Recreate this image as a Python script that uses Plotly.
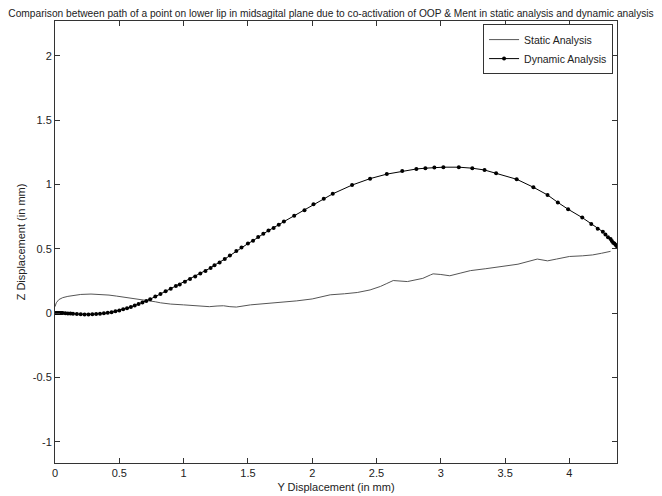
import plotly.graph_objects as go

# Static analysis path (Y displacement, Z displacement) in mm
static_y = [0, 0.01, 0.03, 0.06, 0.10, 0.15, 0.20, 0.28, 0.35, 0.42, 0.48, 0.53, 0.58, 0.65,
            0.72, 0.78, 0.82, 0.90, 1.00, 1.10, 1.20, 1.26, 1.31, 1.36, 1.41, 1.52, 1.62, 1.75,
            1.88, 2.00, 2.14, 2.25, 2.35, 2.45, 2.53, 2.58, 2.63, 2.74, 2.86, 2.92, 2.94, 3.00,
            3.07, 3.15, 3.23, 3.35, 3.48, 3.60, 3.75, 3.83, 3.90, 4.00, 4.10, 4.18, 4.25, 4.32]
static_z = [0.05, 0.08, 0.105, 0.12, 0.13, 0.138, 0.145, 0.148, 0.145, 0.14, 0.132, 0.125, 0.115, 0.107,
            0.10, 0.088, 0.08, 0.07, 0.064, 0.058, 0.05, 0.055, 0.057, 0.05, 0.047, 0.064, 0.072, 0.08,
            0.095, 0.11, 0.142, 0.15, 0.16, 0.18, 0.207, 0.23, 0.253, 0.245, 0.27, 0.297, 0.305, 0.30,
            0.29, 0.31, 0.33, 0.345, 0.362, 0.38, 0.42, 0.406, 0.42, 0.44, 0.445, 0.452, 0.465, 0.48]

# Dynamic analysis path
dynamic_y = [0, 0.01, 0.02, 0.03, 0.04, 0.05, 0.06, 0.08, 0.10, 0.12, 0.14, 0.17, 0.20, 0.23,
             0.26, 0.29, 0.32, 0.35, 0.38, 0.41, 0.44, 0.47, 0.50, 0.53, 0.56, 0.59, 0.62, 0.65,
             0.68, 0.71, 0.74, 0.78, 0.82, 0.86, 0.90, 0.94, 0.97, 1.01, 1.05, 1.09, 1.13, 1.17,
             1.21, 1.24, 1.28, 1.32, 1.36, 1.41, 1.45, 1.50, 1.54, 1.58, 1.62, 1.66, 1.70, 1.74,
             1.78, 1.86, 1.94, 2.01, 2.09, 2.16, 2.31, 2.45, 2.58, 2.70, 2.81, 2.88, 2.95, 3.02,
             3.14, 3.245, 3.34, 3.43, 3.59, 3.72, 3.83, 3.91, 3.99, 4.10, 4.17, 4.22, 4.26, 4.28,
             4.30, 4.32, 4.33, 4.34, 4.35, 4.36, 4.37]
dynamic_z = [0, 0, 0, 0, 0, 0, 0, -0.002, -0.003, -0.004, -0.005, -0.008, -0.009, -0.010,
             -0.010, -0.009, -0.007, -0.005, -0.002, 0.002, 0.007, 0.014, 0.021, 0.029, 0.038, 0.048, 0.059, 0.070,
             0.082, 0.094, 0.108, 0.128, 0.149, 0.170, 0.190, 0.210, 0.222, 0.243, 0.265, 0.285, 0.307, 0.328,
             0.351, 0.372, 0.394, 0.420, 0.447, 0.482, 0.51, 0.54, 0.563, 0.592, 0.616, 0.641, 0.662, 0.687,
             0.711, 0.757, 0.80, 0.846, 0.889, 0.927, 0.995, 1.045, 1.08, 1.104, 1.12, 1.126, 1.132, 1.134,
             1.134, 1.126, 1.112, 1.087, 1.04, 0.978, 0.918, 0.86, 0.807, 0.742, 0.693, 0.655, 0.632, 0.61,
             0.59, 0.575, 0.56, 0.547, 0.54, 0.53, 0.517]

x_ticks = [0, 0.5, 1, 1.5, 2, 2.5, 3, 3.5, 4]
x_tick_labels = ["0", "0.5", "1", "1.5", "2", "2.5", "3", "3.5", "4"]
y_ticks = [-1, -0.5, 0, 0.5, 1, 1.5, 2]
y_tick_labels = ["-1", "-0.5", "0", "0.5", "1", "1.5", "2"]

FONT = "Liberation Sans, Arial, sans-serif"

fig = go.Figure()
fig.add_trace(go.Scatter(x=static_y, y=static_z, mode="lines", name="Static Analysis",
                         line=dict(color="#555555", width=1)))
fig.add_trace(go.Scatter(x=dynamic_y, y=dynamic_z, mode="lines+markers", name="Dynamic Analysis",
                         line=dict(color="black", width=1),
                         marker=dict(color="black", size=4, symbol="circle")))

axis_common = dict(showline=True, linecolor="#333333", linewidth=1, mirror="ticks",
                   ticks="inside", ticklen=5, tickcolor="#333333", showgrid=False, zeroline=False,
                   tickfont=dict(family=FONT, size=11, color="#222222"))

# The page body has an 8px margin, so the figure is sized to fill the rest of the window.
fig.update_layout(
    width=654, height=488,
    margin=dict(l=47, r=45, t=13, b=33, autoexpand=False),
    paper_bgcolor="white", plot_bgcolor="white",
    title=dict(text="Comparison between path of a point on lower lip in midsagital plane due to co-activation of OOP & Ment in static analysis and dynamic analysis",
               x=(331 - 8) / 654, xanchor="center", y=1 - 5.5 / 488, yanchor="middle",
               font=dict(family=FONT, size=10.2, color="#222222")),
    xaxis=dict(range=[0, 4.37], tickvals=x_ticks, ticktext=x_tick_labels,
               title=dict(text="Y Displacement (in mm)", standoff=5,
                          font=dict(family=FONT, size=11, color="#222222")),
               **axis_common),
    yaxis=dict(range=[-1.165, 2.27], tickvals=y_ticks, ticktext=y_tick_labels,
               title=dict(text="Z Displacement (in mm)", standoff=4,
                          font=dict(family=FONT, size=11, color="#222222")),
               **axis_common),
    legend=dict(x=0.993, y=0.993, xanchor="right", yanchor="top",
                bordercolor="#333333", borderwidth=1, bgcolor="white",
                font=dict(family=FONT, size=10.5, color="#222222"),
                tracegroupgap=0, itemwidth=30),
    showlegend=True,
)

fig.write_html("out.html")
